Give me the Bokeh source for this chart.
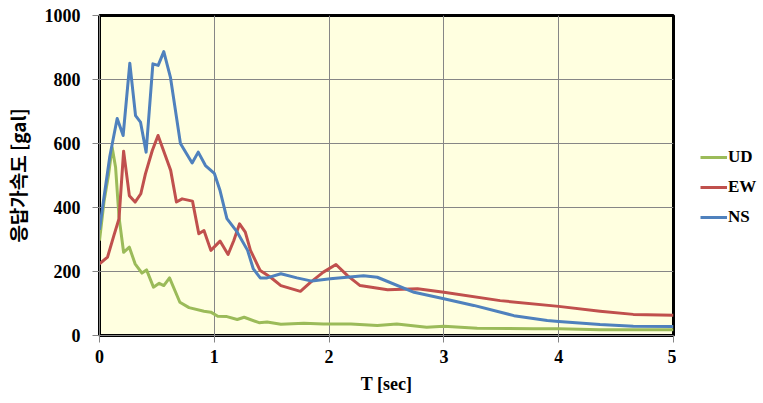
from bokeh.plotting import figure
from bokeh.models import Legend, LegendItem, Range1d, FixedTicker
from bokeh.layouts import row
from bokeh.embed import file_html
from bokeh.resources import INLINE

# ---- data ----
T_UD = [0, 0.04, 0.08, 0.11, 0.14, 0.17, 0.21, 0.26, 0.31, 0.37, 0.41, 0.47, 0.52, 0.56, 0.61,
        0.70, 0.78, 0.91, 0.97, 1.03, 1.11, 1.20, 1.26, 1.39, 1.46, 1.58, 1.78, 1.95, 2.19,
        2.42, 2.59, 2.85, 3.0, 3.29, 3.78, 4.0, 4.36, 5.0]
UD = [297, 420, 505, 588, 526, 370, 260, 276, 224, 195, 205, 151, 163, 156, 180,
      104, 87, 76, 73, 60, 59, 50, 57, 40, 42, 35, 38, 36, 36,
      31, 36, 26, 29, 23, 21, 21, 18, 18]

T_EW = [0, 0.07, 0.125, 0.17, 0.21, 0.26, 0.31, 0.36, 0.40, 0.46, 0.51, 0.60, 0.62, 0.67, 0.72,
        0.81, 0.865, 0.91, 0.97, 1.05, 1.12, 1.17, 1.22, 1.27, 1.315, 1.40, 1.49, 1.58, 1.75,
        1.84, 1.95, 2.06, 2.16, 2.27, 2.51, 2.77, 3.0, 3.49, 4.0, 4.36, 4.65, 5.0]
EW = [224, 245, 312, 365, 576, 437, 417, 443, 505, 578, 625, 536, 516, 417, 427,
      420, 318, 328, 266, 295, 253, 297, 349, 323, 266, 203, 182, 156, 138,
      167, 198, 222, 187, 156, 143, 146, 135, 109, 91, 76, 66, 63]

T_NS = [0, 0.035, 0.09, 0.154, 0.206, 0.264, 0.314, 0.357, 0.406, 0.465, 0.511, 0.56, 0.618,
        0.705, 0.807, 0.86, 0.923, 1.0, 1.05, 1.11, 1.2, 1.29, 1.34, 1.40, 1.46, 1.58, 1.72,
        1.85, 2.01, 2.30, 2.42, 2.74, 3.0, 3.26, 3.61, 3.90, 4.0, 4.36, 4.65, 5.0]
NS = [330, 422, 560, 678, 625, 851, 687, 667, 573, 849, 844, 887, 807,
      600, 539, 573, 531, 507, 453, 365, 323, 266, 208, 180, 180, 193, 180,
      170, 177, 187, 182, 135, 115, 94, 62, 47, 44, 34, 29, 28]

X_TICKS = [0, 1, 2, 3, 4, 5]
Y_TICKS = [0, 200, 400, 600, 800, 1000]
SERIES = ["UD", "EW", "NS"]
COLORS = ["#9BBB59", "#C0504D", "#4F81BD"]
T_ALL = [T_UD, T_EW, T_NS]
V_ALL = [UD, EW, NS]

# ---- main chart ----
p = figure(width=676, height=403, output_backend="svg", toolbar_location=None,
           x_range=Range1d(0, 5), y_range=Range1d(0, 1000),
           min_border_left=99, min_border_right=3, min_border_top=15, min_border_bottom=68)

p.background_fill_color = "#FFFFE0"
p.border_fill_color = "white"
p.outline_line_color = "black"
p.outline_line_width = 3

for ax in (p.xaxis[0], p.yaxis[0]):
    ax.axis_line_color = "#868686"
    ax.major_tick_line_color = "#868686"
    ax.major_tick_out = 7
    ax.major_tick_in = 0
    ax.minor_tick_line_color = None
    ax.major_label_text_font = "Liberation Serif"
    ax.major_label_text_font_style = "bold"
    ax.major_label_text_font_size = "18px"
    ax.major_label_text_color = "black"
    ax.axis_label_text_color = "black"

p.xaxis.ticker = FixedTicker(ticks=X_TICKS)
p.yaxis.ticker = FixedTicker(ticks=Y_TICKS)
p.xaxis.major_label_standoff = 7
p.yaxis.major_label_standoff = 12

p.xaxis.axis_label = "T [sec]"
p.xaxis.axis_label_text_font = "Liberation Serif"
p.xaxis.axis_label_text_font_style = "bold"
p.xaxis.axis_label_text_font_size = "18px"
p.xaxis.axis_label_standoff = 8

p.yaxis.axis_label = "응답가속도 [gal]"
p.yaxis.axis_label_text_font = "Noto Sans CJK KR"
p.yaxis.axis_label_text_font_style = "bold"
p.yaxis.axis_label_text_font_size = "19px"
p.yaxis.axis_label_text_line_height = 1.0
p.yaxis.axis_label_standoff = 11

p.grid.grid_line_color = "#868686"
p.grid.grid_line_width = 1

for t, v, c in zip(T_ALL, V_ALL, COLORS):
    p.line(t, v, line_color=c, line_width=3, line_join="round")

# ---- legend panel (outside the plot area, to its right) ----
# The same series are drawn here off-screen only so that the legend has keys.
lg = figure(width=87, height=403, output_backend="svg", toolbar_location=None,
            x_range=Range1d(100, 101), y_range=Range1d(0, 1000),
            x_axis_location=None, y_axis_location=None,
            min_border_left=0, min_border_right=0, min_border_top=0, min_border_bottom=0)
lg.outline_line_color = None
lg.grid.visible = False
lg.background_fill_color = "white"
lg.border_fill_color = "white"

keys = [lg.line(t, v, line_color=c, line_width=3) for t, v, c in zip(T_ALL, V_ALL, COLORS)]
legend = Legend(items=[LegendItem(label=s, renderers=[r]) for s, r in zip(SERIES, keys)],
                location=(24, 108))
legend.background_fill_alpha = 0
legend.border_line_color = None
legend.label_text_font = "Liberation Serif"
legend.label_text_font_style = "bold"
legend.label_text_font_size = "17px"
legend.label_text_color = "black"
legend.glyph_width = 27
legend.spacing = 10
legend.label_standoff = 1
legend.padding = 0
legend.margin = 0
lg.add_layout(legend)

layout = row(p, lg)
open("out.html", "w").write(file_html(layout, INLINE))
